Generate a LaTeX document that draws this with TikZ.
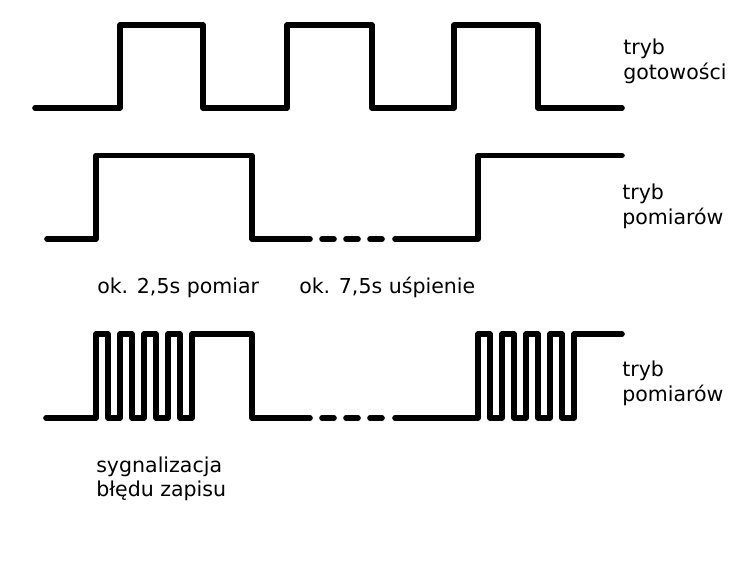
\documentclass[tikz,border=0pt]{standalone}
\usepackage{fontspec}
\setmainfont{DejaVu Sans}
\begin{document}
\begin{tikzpicture}[x=0.75pt,y=-0.75pt,
  wave/.style={line width=4.2pt,line cap=round,line join=round},
  lbl/.style={anchor=base west,inner sep=0pt,font=\fontsize{15.4pt}{18.75pt}\selectfont}]
\useasboundingbox (0,0) rectangle (740,573);
% row 1
\draw[wave] (35,108) -- (120,108) -- (120,25) -- (203,25) -- (203,108) -- (287,108) -- (287,25) -- (372,25) -- (372,108) -- (454,108) -- (454,25) -- (538,25) -- (538,108) -- (622,108);
% row 2
\draw[wave] (47,239) -- (96,239) -- (96,155.5) -- (252,155.5) -- (252,239) -- (310,239);
\foreach \d in {322,346,370} \draw[wave] (\d,239) -- ++(12,0);
\draw[wave] (395,239) -- (478,239) -- (478,155.5) -- (622,155.5);
% row 3
\draw[wave] (46,418) -- (96,418) \foreach \i in {0,...,3} { -- ++(0,-84) -- ++(12,0) -- ++(0,84) -- ++(12,0) } -- ++(0,-84) -- (252,334) -- (252,418) -- (310,418);
\foreach \d in {322,346,370} \draw[wave] (\d,418) -- ++(12,0);
\draw[wave] (395,418) -- (478,418) \foreach \i in {0,...,3} { -- ++(0,-84) -- ++(12,0) -- ++(0,84) -- ++(12,0) } -- ++(0,-84) -- (622,334);
% labels
\node[lbl] (t1a) at (623,55) {tryb};
\node[lbl] (t1b) at (623,80) {gotowości};
\node[lbl] (t2a) at (622,200) {tryb};
\node[lbl] (t2b) at (622,225) {pomiarów};
\node[lbl] (t3a) at (622,377) {tryb};
\node[lbl] (t3b) at (622,402) {pomiarów};
\node[lbl] (m1) at (97,294) {ok. 2,5s pomiar};
\node[lbl] (m2) at (299,294) {ok. 7,5s uśpienie};
\node[lbl] (e1) at (96,473) {sygnalizacja};
\node[lbl] (e2) at (96,497) {błędu zapisu};
\end{tikzpicture}
\end{document}
